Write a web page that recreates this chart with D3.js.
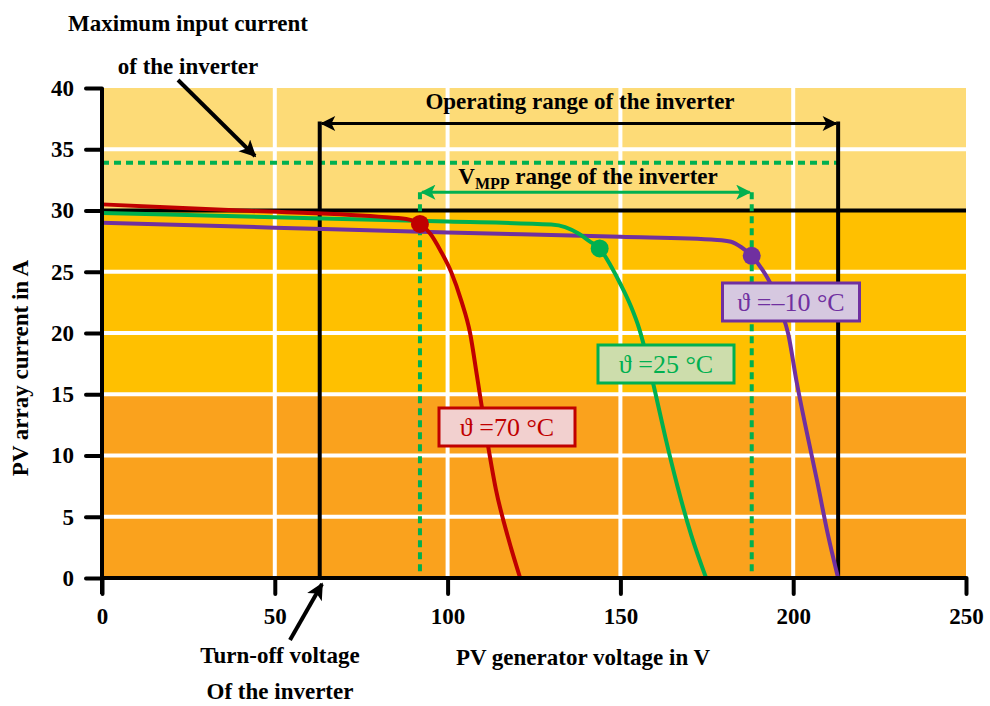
<!DOCTYPE html>
<html>
<head>
<meta charset="utf-8">
<script src="https://cdn.jsdelivr.net/npm/d3@7"></script>
<style>
  html, body { margin: 0; padding: 0; background: #fff; }
  svg text { font-family: "Liberation Serif", "Times New Roman", serif; font-weight: bold; }
</style>
</head>
<body>
<svg id="chart" width="990" height="706"></svg>
<script>
// I-V characteristics of a PV array at three cell temperatures
const xTicks = [0, 50, 100, 150, 200, 250];
const yTicks = [0, 5, 10, 15, 20, 25, 30, 35, 40];

const curve70 = [[0, 30.5], [40, 30.0], [80, 29.5], [88, 29.3], [92, 28.9], [95, 28.1], [98, 26.7],
  [101, 25.0], [104, 22.6], [106.5, 20.0], [108.5, 16.5], [111, 12.0], [114, 7.2], [117.5, 3.3], [121, 0]];
const curve25 = [[0, 29.8], [50, 29.45], [100, 29.1], [130, 28.85], [134, 28.65], [138, 28.1], [141, 27.5],
  [144, 26.9], [147, 25.6], [150, 24.0], [153, 22.2], [155.5, 20.3], [157.7, 18.0], [160.2, 15.0], [163, 11.5],
  [166.5, 7.5], [170.5, 3.5], [174.8, 0]];
const curveM10 = [[0, 29.0], [50, 28.6], [100, 28.2], [150, 27.85], [178, 27.6], [182, 27.45], [185, 27.0],
  [188, 26.3], [191, 25.2], [194, 23.7], [196.5, 21.8], [198.5, 20.0], [201, 16.0], [204, 11.8], [207, 7.8],
  [210, 3.6], [213, 0]];

// Maximum power points (V, I)
const mppPoints = [
  { v: 92, i: 28.9, color: "#C00000" },
  { v: 144, i: 26.9, color: "#00B050" },
  { v: 188, i: 26.3, color: "#7030A0" }
];

// Inverter limits
const turnOffVoltage = 63;
const maxVoltage = 213;
const vmppMin = 92;
const vmppMax = 188;
const maxInputCurrent = 33.9;
const operatingArrowI = 37.1;
const vmppArrowI = 31.5;

// Background bands (current ranges)
const bands = [
  { from: 0, to: 15, color: "#FAA21D" },
  { from: 15, to: 30, color: "#FFC000" },
  { from: 30, to: 40, color: "#FDDB77" }
];

const svg = d3.select("#chart");
const x = d3.scaleLinear().domain([0, 250]).range([102, 966]);
const y = d3.scaleLinear().domain([0, 40]).range([578, 88]);

// arrowhead markers
const defs = svg.append("defs");
function marker(id, color, w, h) {
  defs.append("marker")
    .attr("id", id)
    .attr("viewBox", "0 0 10 10")
    .attr("refX", 9).attr("refY", 5)
    .attr("markerWidth", w).attr("markerHeight", h)
    .attr("markerUnits", "strokeWidth")
    .attr("orient", "auto-start-reverse")
    .append("path")
    .attr("d", "M0,0 L10,5 L0,10 L2.5,5 Z")
    .attr("fill", color);
}
marker("arrBlack", "#000", 5, 4.2);
marker("arrRange", "#000", 6.5, 5);
marker("arrGreen", "#00B050", 6.5, 5);

// bands
svg.append("g").selectAll("rect").data(bands).join("rect")
  .attr("x", x(0)).attr("width", x(250) - x(0))
  .attr("y", d => y(d.to)).attr("height", d => y(d.from) - y(d.to))
  .attr("fill", d => d.color);

// white grid
const grid = svg.append("g").attr("stroke", "#fff").attr("stroke-width", 4);
grid.selectAll(".gx").data(xTicks.filter(t => t > 0 && t < 250)).join("line")
  .attr("x1", d => x(d)).attr("x2", d => x(d)).attr("y1", y(40)).attr("y2", y(0));
grid.selectAll(".gy").data(yTicks.filter(t => t > 0 && t < 40 && t !== 30)).join("line")
  .attr("x1", x(0)).attr("x2", x(250)).attr("y1", d => y(d)).attr("y2", d => y(d));

// black line at 30 A
svg.append("line")
  .attr("x1", x(0)).attr("x2", x(250)).attr("y1", y(30)).attr("y2", y(30))
  .attr("stroke", "#000").attr("stroke-width", 4);

// maximum input current (dotted)
svg.append("line")
  .attr("x1", x(0)).attr("x2", x(maxVoltage)).attr("y1", y(maxInputCurrent)).attr("y2", y(maxInputCurrent))
  .attr("stroke", "#00B050").attr("stroke-width", 4).attr("stroke-dasharray", "7,5");

// operating range verticals
svg.append("g").selectAll("line").data([turnOffVoltage, maxVoltage]).join("line")
  .attr("x1", d => x(d)).attr("x2", d => x(d)).attr("y1", y(operatingArrowI) - 2).attr("y2", y(0))
  .attr("stroke", "#000").attr("stroke-width", 4);
svg.append("line")
  .attr("x1", x(turnOffVoltage) + 2).attr("x2", x(maxVoltage) - 2)
  .attr("y1", y(operatingArrowI)).attr("y2", y(operatingArrowI))
  .attr("stroke", "#000").attr("stroke-width", 3)
  .attr("marker-start", "url(#arrRange)").attr("marker-end", "url(#arrRange)");

// VMPP range verticals (dashed)
svg.append("g").selectAll("line").data([vmppMin, vmppMax]).join("line")
  .attr("x1", d => x(d)).attr("x2", d => x(d)).attr("y1", y(vmppArrowI)).attr("y2", y(0))
  .attr("stroke", "#00B050").attr("stroke-width", 4).attr("stroke-dasharray", "7,5");
svg.append("line")
  .attr("x1", x(vmppMin) + 2).attr("x2", x(vmppMax) - 2)
  .attr("y1", y(vmppArrowI)).attr("y2", y(vmppArrowI))
  .attr("stroke", "#00B050").attr("stroke-width", 3)
  .attr("marker-start", "url(#arrGreen)").attr("marker-end", "url(#arrGreen)");

// I-V curves
const line = d3.line().x(d => x(d[0])).y(d => y(d[1])).curve(d3.curveMonotoneX);
const series = [
  { data: curveM10, color: "#7030A0" },
  { data: curve25, color: "#00B050" },
  { data: curve70, color: "#C00000" }
];
svg.append("g").selectAll("path").data(series).join("path")
  .attr("d", d => line(d.data))
  .attr("fill", "none").attr("stroke", d => d.color).attr("stroke-width", 4)
  .attr("stroke-linejoin", "round");

svg.append("g").selectAll("circle").data(mppPoints).join("circle")
  .attr("cx", d => x(d.v)).attr("cy", d => y(d.i)).attr("r", 9)
  .attr("fill", d => d.color);

// temperature labels
const tempLabels = [
  { text: "\u03D1 =70 \u00B0C", cx: 507, cy: 427, w: 136, h: 38, stroke: "#C00000", fill: "#F2D0CF", color: "#C00000" },
  { text: "\u03D1 =25 \u00B0C", cx: 666, cy: 364, w: 136, h: 38, stroke: "#00B050", fill: "#CDDDAC", color: "#00B050" },
  { text: "\u03D1 =\u201310 \u00B0C", cx: 791, cy: 302, w: 137, h: 38, stroke: "#7030A0", fill: "#D6C8E0", color: "#7030A0" }
];
const lg = svg.append("g").selectAll("g").data(tempLabels).join("g");
lg.append("rect")
  .attr("x", d => d.cx - d.w / 2).attr("y", d => d.cy - d.h / 2)
  .attr("width", d => d.w).attr("height", d => d.h)
  .attr("fill", d => d.fill).attr("stroke", d => d.stroke).attr("stroke-width", 3);
lg.append("text")
  .attr("x", d => d.cx).attr("y", d => d.cy + 9)
  .attr("text-anchor", "middle").attr("font-size", 26)
  .style("font-weight", "normal")
  .attr("fill", d => d.color).text(d => d.text);

// axes
const yAxis = svg.append("g").attr("transform", `translate(${x(0)},0)`)
  .call(d3.axisLeft(y).tickValues(yTicks).tickSize(16).tickSizeOuter(0).tickPadding(12));
const xAxis = svg.append("g").attr("transform", `translate(0,${y(0)})`)
  .call(d3.axisBottom(x).tickValues(xTicks).tickSize(16).tickSizeOuter(0).tickPadding(14));
[xAxis, yAxis].forEach(a => {
  a.select(".domain").attr("stroke", "#000").attr("stroke-width", 4);
  a.selectAll(".tick line").attr("stroke", "#000").attr("stroke-width", 4).attr("stroke-linecap", "round");
  a.selectAll(".tick text").attr("font-size", 23).attr("fill", "#000")
    .style("font-family", "'Liberation Serif', serif").style("font-weight", "bold");
});
yAxis.select(".domain").attr("d", `M0,${y(40)}V${y(0) + 16}`);
xAxis.select(".domain").attr("d", `M${x(0)},0H${x(250)}`);

// axis titles
svg.append("text").attr("x", 583).attr("y", 665).attr("text-anchor", "middle")
  .attr("font-size", 23).text("PV generator voltage in V");
svg.append("text").attr("transform", "translate(28,368) rotate(-90)").attr("text-anchor", "middle")
  .attr("font-size", 23).text("PV array current in A");

// annotations
svg.append("text").attr("x", 188).attr("y", 31).attr("text-anchor", "middle")
  .attr("font-size", 23).text("Maximum input current");
svg.append("text").attr("x", 188).attr("y", 74).attr("text-anchor", "middle")
  .attr("font-size", 23).text("of the inverter");
svg.append("line").attr("x1", 178).attr("y1", 80).attr("x2", 255).attr("y2", 156)
  .attr("stroke", "#000").attr("stroke-width", 4).attr("marker-end", "url(#arrBlack)");

svg.append("text").attr("x", 580).attr("y", 109).attr("text-anchor", "middle")
  .attr("font-size", 23).text("Operating range of the inverter");

const vt = svg.append("text").attr("x", 588).attr("y", 184).attr("text-anchor", "middle").attr("font-size", 23);
vt.append("tspan").text("V");
vt.append("tspan").attr("font-size", 16).attr("dy", 5).text("MPP");
vt.append("tspan").attr("dy", -5).text(" range of the inverter");

svg.append("text").attr("x", 280).attr("y", 663).attr("text-anchor", "middle")
  .attr("font-size", 23).text("Turn-off voltage");
svg.append("text").attr("x", 280).attr("y", 699).attr("text-anchor", "middle")
  .attr("font-size", 23).text("Of the inverter");
svg.append("line").attr("x1", 290).attr("y1", 640).attr("x2", 322).attr("y2", 584)
  .attr("stroke", "#000").attr("stroke-width", 4).attr("marker-end", "url(#arrBlack)");
</script>
</body>
</html>
